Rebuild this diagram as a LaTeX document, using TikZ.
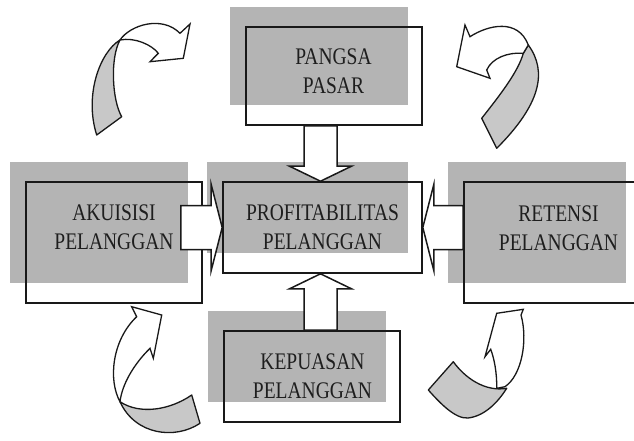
\documentclass[tikz,border=0pt]{standalone}
\usepackage{fontspec}
\setmainfont{Liberation Serif}
\usetikzlibrary{calc,backgrounds}
\definecolor{shadowgray}{RGB}{180,180,180}
\definecolor{ribbongray}{RGB}{200,200,200}
\definecolor{inkline}{RGB}{25,25,25}
\definecolor{inktext}{RGB}{30,30,30}
\newcommand{\boxlabel}[2]{\scalebox{1}[1.22]{\begin{tabular}{@{}c@{}}#1\\#2\end{tabular}}}

\begin{document}
\begin{tikzpicture}[x=1pt,y=-1pt,
  frame/.style={draw=inkline, line width=1.6pt, minimum width=176pt,
                minimum height=#1, inner sep=0pt},
  frame/.default=91pt,
  caption/.style={inner sep=0pt, text=inktext,
                  font=\fontsize{19.5}{23.8}\selectfont},
  blockarrow/.style={draw=inkline, line width=1.5pt, fill=white, line join=miter},
  ribbonback/.style={draw=inkline, line width=1.3pt, fill=ribbongray, line join=round},
  ribbonfront/.style={draw=inkline, line width=1.3pt, fill=white, line join=miter}]

\clip (0,0) rectangle (634,440);

% framed boxes
\node[frame=98pt] (pangsa) at (334,76) {};
\node[frame=91pt, minimum width=199pt] (profit) at (322.5,227.5) {};
\node[frame=121pt] (akuisisi) at (114,242.5) {};
\node[frame=121pt] (retensi) at (552,242.5) {};
\node[frame=91pt] (kepuasan) at (312,376.5) {};

% page background and offset grey panels behind the frames
\begin{scope}[on background layer]
  \fill[white] (0,0) rectangle (634,440);
  \foreach \n in {pangsa,profit,akuisisi,retensi,kepuasan}
    \fill[shadowgray] ([shift={(-15,-21)}]\n.south west)
                rectangle ([shift={(-15,-19)}]\n.north east);
\end{scope}

% captions
\node[caption] (t-pangsa)   at (333.5,73.5)  {\boxlabel{PANGSA}{PASAR}};
\node[caption] (t-profit)   at (322.5,229.5) {\boxlabel{PROFITABILITAS}{PELANGGAN}};
\node[caption] (t-akuisisi) at (114,229.5)   {\boxlabel{AKUISISI}{PELANGGAN}};
\node[caption] (t-retensi)  at (558.5,230)   {\boxlabel{RETENSI}{PELANGGAN}};
\node[caption] (t-kepuasan) at (312.5,378)   {\boxlabel{KEPUASAN}{PELANGGAN}};

% block arrows into the central box
\draw[blockarrow] let \p1=(pangsa.south), \p2=(profit.north) in
  (\x2-2pt,\y2) -- (\x2+29pt,\y2+15pt) -- (\x2+14.5pt,\y2+15pt) -- (\x2+14.5pt,\y1)
  -- (\x2-18.5pt,\y1) -- (\x2-18.5pt,\y2+15pt) -- (\x2-33pt,\y2+15pt) -- cycle;
\draw[blockarrow] let \p1=(kepuasan.north), \p2=(profit.south) in
  (\x2-2pt,\y2) -- (\x2+29pt,\y2-15pt) -- (\x2+14.5pt,\y2-15pt) -- (\x2+14.5pt,\y1)
  -- (\x2-18.5pt,\y1) -- (\x2-18.5pt,\y2-15pt) -- (\x2-33pt,\y2-15pt) -- cycle;
\draw[blockarrow] let \p1=(akuisisi.east), \p2=(profit.west) in
  (\x2,\y2) -- (\x2-11pt,\y2-43pt) -- (\x2-11pt,\y2-22pt) -- (\x1-22pt,\y2-22pt)
  -- (\x1-22pt,\y2+22pt) -- (\x2-11pt,\y2+22pt) -- (\x2-11pt,\y2+43pt) -- cycle;
\draw[blockarrow] let \p1=(retensi.west), \p2=(profit.east) in
  (\x2,\y2) -- (\x2+11pt,\y2-43pt) -- (\x2+11pt,\y2-22pt) -- (\x1,\y2-22pt)
  -- (\x1,\y2+22pt) -- (\x2+11pt,\y2+22pt) -- (\x2+11pt,\y2+43pt) -- cycle;

% twisted ribbon arrows, upper left
\filldraw[ribbonback] (96.7,135) -- (121.7,116.7) .. controls (112,100) and (110,58) .. (120,40)
  .. controls (100,52) and (84,95) .. (96.7,135) -- cycle;
\filldraw[ribbonfront] (120,40) .. controls (130,25) and (162,15) .. (180,33.3) -- (190,24)
  -- (183.3,58.3) -- (150,61.7) -- (158.3,53.3) .. controls (152,45) and (135,37) .. (120,40) -- cycle;

% upper right
\filldraw[ribbonback] (528.3,45) .. controls (548,72) and (540,105) .. (496.7,148.3)
  -- (481.7,118.3) .. controls (500,95) and (518,72) .. (523.3,53.3) -- cycle;
\filldraw[ribbonfront] (486.7,70) -- (490,78.3) -- (456.7,66.7) -- (465,25) -- (470,36.7)
  .. controls (488,25) and (518,18) .. (528.3,45) -- (523.3,53.3)
  .. controls (508,52) and (492,58) .. (486.7,70) -- cycle;

% lower left
\filldraw[ribbonback] (120,401.7) .. controls (140,415) and (170,410) .. (191.7,395)
  -- (200,423.3) .. controls (175,440) and (135,435) .. (120,401.7) -- cycle;
\filldraw[ribbonfront] (131.7,306.7) -- (161.7,315) -- (153.3,358.3) -- (150,348.3)
  .. controls (133,365) and (122,385) .. (120,401.7)
  .. controls (108,380) and (112,340) .. (136.7,316.7) -- cycle;

% lower right
\filldraw[ribbonback] (428.3,390) -- (453.3,361.7) .. controls (465,378) and (485,392) .. (506.7,388.3)
  .. controls (498,402) and (485,416) .. (468,418)
  .. controls (455,419) and (440,403) .. (428.3,390) -- cycle;
\filldraw[ribbonfront] (496.7,313.3) -- (523.3,309.3) -- (521,315)
  .. controls (528,340) and (522,375) .. (505,386.7) -- (496.7,388.3)
  .. controls (497,372) and (494,358) .. (490.7,349.3) -- (485,356.7) -- cycle;
\end{tikzpicture}
\end{document}
